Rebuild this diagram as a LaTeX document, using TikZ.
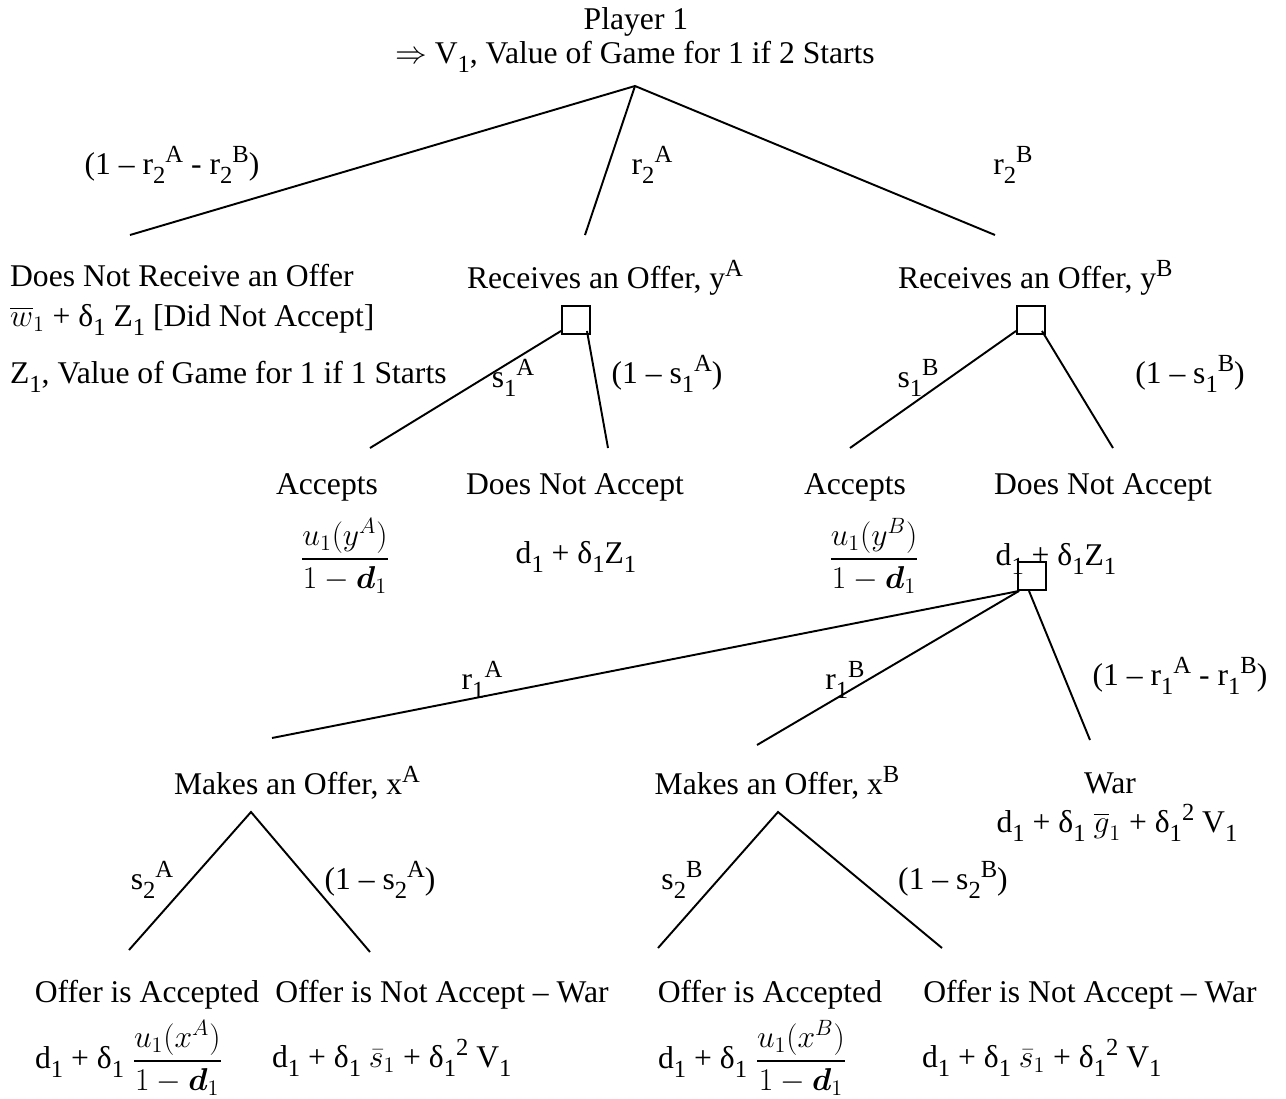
\RequirePackage{fix-cm}
\documentclass[tikz,border=0pt]{standalone}
\usepackage{amsmath,amssymb}
\usepackage{fontspec}
\setmainfont{Liberation Serif}
\usepackage{tikz}
\usetikzlibrary{positioning,calc}
\newcommand{\lo}[1]{\raisebox{-5pt}{\fontsize{14}{14}\selectfont #1}}
\newcommand{\hi}[1]{\raisebox{7pt}{\fontsize{14}{14}\selectfont #1}}
\tikzset{
  txt/.style   ={inner sep=1pt, align=center},
  ltxt/.style  ={txt, anchor=west},
  sqnode/.style={draw, line width=1.1pt, minimum size=0.56cm, inner sep=0pt},
  branch/.style={line width=1.1pt},
}
\begin{document}
\begin{tikzpicture}[x=0.02cm,y=-0.02cm,font=\fontsize{18}{22}\selectfont]
  \useasboundingbox (0,0) rectangle (1286,1099);
  %% root
  \node[txt] (p1) at (636,22) {Player 1};
  \node[txt] (v1) at (635,57) {$\Rightarrow$ V\lo{1}, Value of Game for 1 if 2 Starts};
  \coordinate (root) at (635,86);
  \coordinate (lnr) at (130,235);
  \coordinate (lra) at (585,235);
  \coordinate (lrb) at (995,235);
  \draw[branch] (lnr)--(root)--(lrb);
  \draw[branch] (root)--(lra);
  \node[txt] (q0) at (172,165) {(1 -- r\lo{2}\hi{A} - r\lo{2}\hi{B})};
  \node[txt] (q1) at (652,165) {r\lo{2}\hi{A}};
  \node[txt] (q2) at (1013,165) {r\lo{2}\hi{B}};
  %% player 2 moves
  \node[ltxt] (nro1) at (8,276) {Does Not Receive an Offer};
  \node[ltxt] (nro2) at (8,320) {$\overline{w}_{1}$ + δ\lo{1} Z\lo{1} [Did Not Accept]};
  \node[ltxt] (nro3) at (8,377) {Z\lo{1}, Value of Game for 1 if 1 Starts};
  \node[ltxt] (ra) at (465,278) {Receives an Offer, y\hi{A}};
  \node[ltxt] (rb) at (896,278) {Receives an Offer, y\hi{B}};
  \node[sqnode] (sqa) at (576,320) {};
  \node[sqnode] (sqb) at (1031,320) {};
  \coordinate (acca) at (370,448);
  \coordinate (dnaa) at (608,448);
  \coordinate (accb) at (850,448);
  \coordinate (dnab) at (1113,448);
  \draw[branch] ($(sqa.south west)+(0,-4)$)--(acca);
  \draw[branch] ($(sqa.south east)+(-4,-4)$)--(dnaa);
  \draw[branch] ($(sqb.south west)+(0,-4)$)--(accb);
  \draw[branch] ($(sqb.south east)+(-4,-4)$)--(dnab);
  \node[txt] (sa1) at (513,378) {s\lo{1}\hi{A}};
  \node[txt] (sa2) at (667,374) {(1 -- s\lo{1}\hi{A})};
  \node[txt] (sb1) at (918,378) {s\lo{1}\hi{B}};
  \node[txt] (sb2) at (1190,374) {(1 -- s\lo{1}\hi{B})};
  %% responses
  \node[txt] (accpa) at (327,487) {Accepts};
  \node[txt] (fraca) at (345,556) {$\dfrac{u_{1}(y^{A})}{1-\boldsymbol{d}_{1}}$};
  \node[txt] (dnpa) at (575,487) {Does Not Accept};
  \node[txt] (paya) at (576,557) {d\lo{1} + δ\lo{1}Z\lo{1}};
  \node[txt] (accpb) at (855,487) {Accepts};
  \node[txt] (fracb) at (874,556) {$\dfrac{u_{1}(y^{B})}{1-\boldsymbol{d}_{1}}$};
  \node[txt] (dnpb) at (1103,487) {Does Not Accept};
  \node[txt] (payb) at (1056,559) {d\lo{1} + δ\lo{1}Z\lo{1}};
  \node[sqnode] (sqc) at (1032,576) {};
  %% player 1 moves
  \coordinate (mka) at (272,738);
  \coordinate (mkb) at (757,745);
  \coordinate (war) at (1090,740);
  \draw[branch] ($(sqc.south west)+(2,0)$)--(mka);
  \draw[branch] ($(sqc.south west)+(2,0)$)--(mkb);
  \draw[branch] ($(sqc.south)+(-3,0)$)--(war);
  \node[txt] (ra1) at (482,680) {r\lo{1}\hi{A}};
  \node[txt] (rb1) at (845,680) {r\lo{1}\hi{B}};
  \node[txt] (rw1) at (1180,676) {(1 -- r\lo{1}\hi{A} - r\lo{1}\hi{B})};
  \node[txt] (moa) at (297,783) {Makes an Offer, x\hi{A}};
  \node[txt] (mob) at (777,783) {Makes an Offer, x\hi{B}};
  \node[txt] (wt) at (1110,783) {War};
  \node[txt] (wp) at (1117,823) {d\lo{1} + δ\lo{1} $\overline{g}_{1}$ + δ\lo{1}\hi{2} V\lo{1}};
  \coordinate (apa) at (251,812);
  \coordinate (apb) at (778,812);
  \coordinate (oaa) at (129,950);
  \coordinate (ona) at (370,952);
  \coordinate (oab) at (658,948);
  \coordinate (onb) at (942,948);
  \draw[branch] (oaa)--(apa)--(ona);
  \draw[branch] (oab)--(apb)--(onb);
  \node[txt] (s2a) at (152,880) {s\lo{2}\hi{A}};
  \node[txt] (s2a2) at (380,880) {(1 -- s\lo{2}\hi{A})};
  \node[txt] (s2b) at (682,880) {s\lo{2}\hi{B}};
  \node[txt] (s2b2) at (953,880) {(1 -- s\lo{2}\hi{B})};
  %% terminal payoffs
  \node[txt] (oka) at (147,995) {Offer is Accepted};
  \node[txt] (nka) at (442,995) {Offer is Not Accept -- War};
  \node[txt] (okb) at (770,995) {Offer is Accepted};
  \node[txt] (nkb) at (1090,995) {Offer is Not Accept -- War};
  \node[ltxt] (poa) at (33,1058) {d\lo{1} + δ\lo{1} $\dfrac{u_{1}(x^{A})}{1-\boldsymbol{d}_{1}}$};
  \node[ltxt] (pna) at (270,1058) {d\lo{1} + δ\lo{1} $\bar{s}_{1}$ + δ\lo{1}\hi{2} V\lo{1}};
  \node[ltxt] (pob) at (656,1058) {d\lo{1} + δ\lo{1} $\dfrac{u_{1}(x^{B})}{1-\boldsymbol{d}_{1}}$};
  \node[ltxt] (pnb) at (920,1058) {d\lo{1} + δ\lo{1} $\bar{s}_{1}$ + δ\lo{1}\hi{2} V\lo{1}};
\end{tikzpicture}
\end{document}
